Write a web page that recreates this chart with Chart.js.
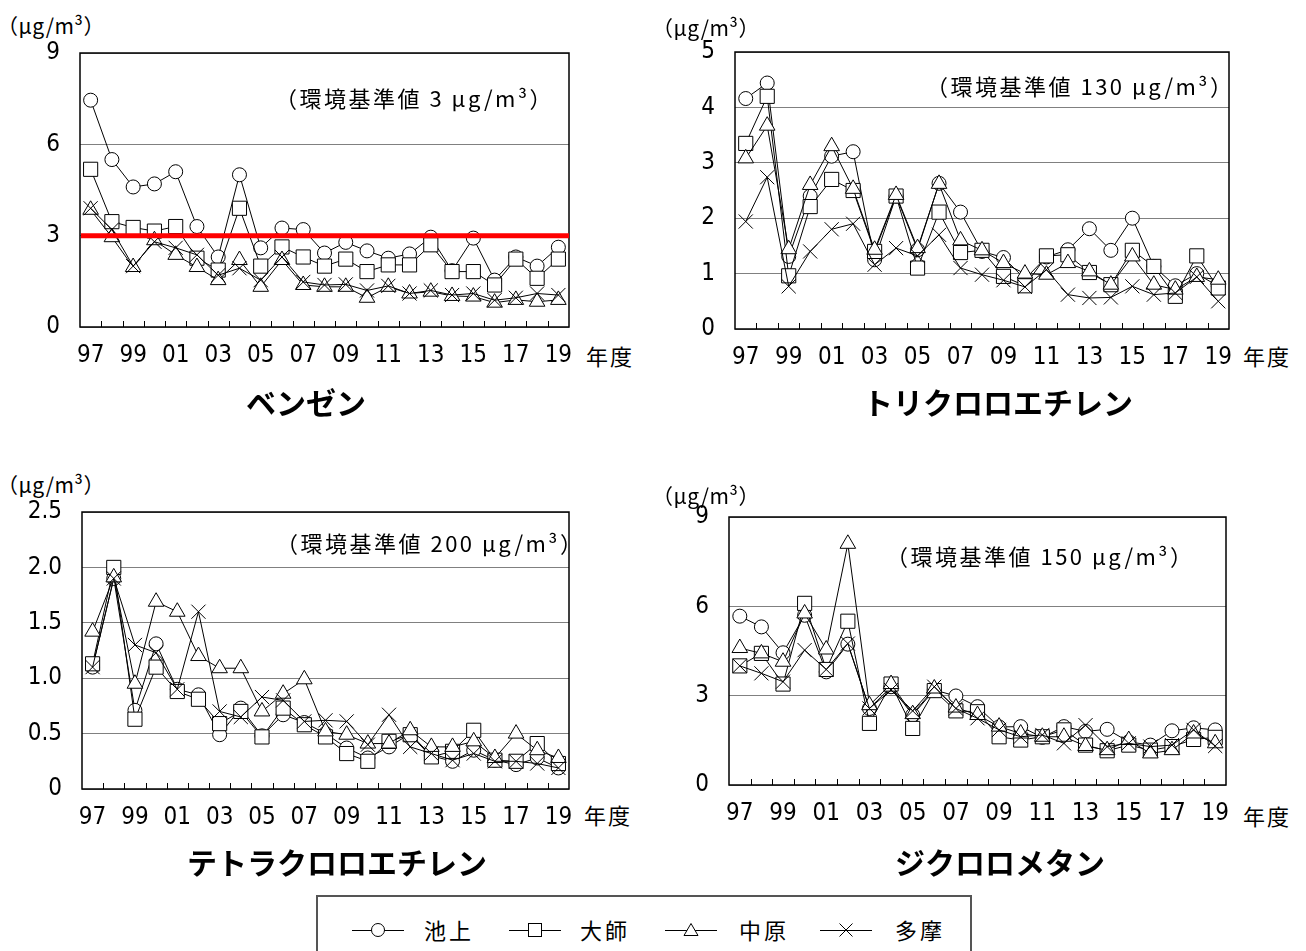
<!DOCTYPE html>
<html>
<head>
<meta charset="utf-8">
<script src="https://cdn.jsdelivr.net/npm/chart.js@4.4.1/dist/chart.umd.min.js"></script>
<style>
  body { margin: 0; background: #fff; }
  #page { position: relative; width: 1306px; height: 951px; overflow: hidden; font-family: "Noto Sans CJK JP", sans-serif; color: #000; }
  canvas { position: absolute; }
  .txt { position: absolute; white-space: nowrap; line-height: 1; }
  .unit { font-size: 21px; letter-spacing: 0.5px; }
  .std { font-size: 22px; letter-spacing: 2.5px; }
  .nendo { font-size: 22px; letter-spacing: 2px; }
  .title { font-size: 30px; font-weight: bold; transform: translateX(-50%); }
  #legend { position: absolute; left: 316px; top: 895px; width: 652px; height: 80px; border: 2px solid #555; }
  .lg { position: absolute; top: 21px; font-size: 22px; letter-spacing: 3px; line-height: 1; }
  .lgs { position: absolute; top: 23px; }
</style>
</head>
<body>
<div id="page">
  <canvas id="c1" width="560" height="340" style="left:20px;top:40px"></canvas>
  <canvas id="c2" width="560" height="340" style="left:680px;top:40px"></canvas>
  <canvas id="c3" width="560" height="340" style="left:20px;top:500px"></canvas>
  <canvas id="c4" width="560" height="340" style="left:680px;top:500px"></canvas>

  <div class="txt unit" style="left:-3px;top:15px">（μg/m³）</div>
  <div class="txt unit" style="left:652px;top:17px">（μg/m³）</div>
  <div class="txt unit" style="left:-3px;top:474px">（μg/m³）</div>
  <div class="txt unit" style="left:652px;top:485px">（μg/m³）</div>

  <div class="txt std" style="left:275px;top:86px">（環境基準値 3 μg/m³）</div>
  <div class="txt std" style="left:926px;top:74px">（環境基準値 130 μg/m³）</div>
  <div class="txt std" style="left:276px;top:531px">（環境基準値 200 μg/m³）</div>
  <div class="txt std" style="left:886px;top:544px">（環境基準値 150 μg/m³）</div>

  <div class="txt nendo" style="left:586px;top:344px">年度</div>
  <div class="txt nendo" style="left:1243px;top:344px">年度</div>
  <div class="txt nendo" style="left:584px;top:803px">年度</div>
  <div class="txt nendo" style="left:1243px;top:804px">年度</div>

  <div class="txt title" style="left:306px;top:386px">ベンゼン</div>
  <div class="txt title" style="left:998px;top:386px">トリクロロエチレン</div>
  <div class="txt title" style="left:337px;top:846px">テトラクロロエチレン</div>
  <div class="txt title" style="left:1000px;top:846px">ジクロロメタン</div>

  <div id="legend"></div>
</div>

<script>
// 年度 (1997-2019)
const years = ['97','98','99','00','01','02','03','04','05','06','07','08','09','10','11','12','13','14','15','16','17','18','19'];
const stations = ['池上', '大師', '中原', '多摩'];

// ベンゼン
const benzeneIkegami  = [7.45,5.5,4.6,4.7,5.1,3.3,2.3,5.0,2.6,3.25,3.2,2.43,2.78,2.5,2.26,2.4,2.95,1.85,2.92,1.54,2.3,2.0,2.62];
const benzeneDaishi   = [5.18,3.46,3.27,3.15,3.3,2.26,1.87,3.9,2.0,2.63,2.3,2.0,2.23,1.82,2.04,2.04,2.7,1.82,1.82,1.38,2.23,1.6,2.23];
const benzeneNakahara = [3.85,2.95,1.97,2.85,2.37,1.97,1.54,2.2,1.32,2.2,1.38,1.32,1.32,0.96,1.32,1.1,1.16,1.02,1.0,0.8,0.89,0.83,0.89];
const benzeneTama     = [3.9,3.2,2.0,2.8,2.6,2.37,1.7,1.93,1.54,2.3,1.48,1.38,1.4,1.2,1.35,1.1,1.2,1.05,1.1,0.88,0.96,1.1,1.05];
const benzeneStandard = 3;

// トリクロロエチレン
const tceIkegami  = [4.16,4.44,1.31,2.4,3.12,3.2,1.25,2.4,1.43,2.63,2.11,1.4,1.29,0.9,1.3,1.43,1.81,1.42,2.0,1.13,0.78,1.0,0.77];
const tceDaishi   = [3.35,4.2,0.96,2.21,2.7,2.5,1.4,2.4,1.1,2.11,1.38,1.42,0.95,0.78,1.32,1.34,1.02,0.8,1.42,1.13,0.59,1.32,0.74];
const tceNakahara = [3.08,3.67,1.44,2.6,3.3,2.53,1.43,2.42,1.46,2.62,1.6,1.42,1.19,1.0,0.98,1.19,1.04,0.8,1.31,0.8,0.71,0.94,0.89];
const tceTama     = [1.94,2.74,0.77,1.4,1.8,1.9,1.16,1.46,1.32,1.7,1.1,0.98,0.88,0.76,1.07,0.62,0.56,0.57,0.77,0.62,0.65,0.94,0.5];

// テトラクロロエチレン
const pceIkegami  = [1.1,1.9,0.71,1.31,0.9,0.85,0.49,0.73,0.48,0.67,0.6,0.5,0.37,0.28,0.38,0.5,0.3,0.25,0.35,0.26,0.22,0.28,0.19];
const pceDaishi   = [1.13,2.0,0.63,1.1,0.88,0.81,0.59,0.7,0.47,0.73,0.58,0.47,0.32,0.25,0.43,0.49,0.29,0.34,0.53,0.26,0.25,0.41,0.23];
const pceNakahara = [1.42,1.91,0.95,1.69,1.6,1.2,1.09,1.09,0.7,0.86,0.99,0.52,0.49,0.41,0.41,0.53,0.38,0.38,0.43,0.28,0.5,0.35,0.28];
const pceTama     = [1.1,1.9,1.3,1.23,0.9,1.6,0.7,0.65,0.83,0.8,0.61,0.62,0.61,0.4,0.67,0.38,0.32,0.26,0.32,0.25,0.25,0.23,0.19];

// ジクロロメタン
const dcmIkegami  = [5.67,5.31,4.44,5.7,3.8,4.73,2.57,3.3,2.35,3.19,2.99,2.63,1.95,1.96,1.6,1.96,1.8,1.87,1.45,1.34,1.82,1.92,1.85];
const dcmDaishi   = [4.0,4.42,3.39,6.1,3.88,5.5,2.07,3.39,1.9,3.17,2.49,2.46,1.62,1.51,1.62,1.85,1.34,1.15,1.34,1.17,1.29,1.53,1.6];
const dcmNakahara = [4.6,4.42,4.14,5.76,4.55,8.1,2.68,3.39,2.38,3.24,2.6,2.35,1.96,1.73,1.62,1.62,1.31,1.17,1.51,1.06,1.17,1.73,1.4];
const dcmTama     = [4.0,3.75,3.47,4.53,3.88,4.75,2.57,3.19,2.49,3.3,2.57,2.24,1.85,1.62,1.68,1.4,2.01,1.29,1.4,1.29,1.34,1.85,1.31];

// marker look per station
const markers = [
  { pointStyle: 'circle',   pointRadius: 7 },
  { pointStyle: 'rect',     pointRadius: 10 },
  { pointStyle: 'triangle', pointRadius: 9 },
  { pointStyle: 'crossRot', pointRadius: 10 },
];

const tickFont = { family: "'Liberation Sans Narrow', 'DejaVu Sans Condensed', sans-serif", size: 24 };

// plot frame + small inner ticks on the x axis
const framePlugin = {
  id: 'frame',
  afterDatasetsDraw(chart) {
    const { ctx, chartArea: a, scales: { x } } = chart;
    ctx.save();
    ctx.strokeStyle = '#000';
    ctx.lineWidth = 1;
    for (let i = 1; i < years.length; i++) {
      const px = Math.round((x.getPixelForValue(i - 1) + x.getPixelForValue(i)) / 2) + 0.5;
      ctx.beginPath();
      ctx.moveTo(px, a.bottom);
      ctx.lineTo(px, a.bottom - 6);
      ctx.stroke();
    }
    ctx.lineWidth = 1.5;
    ctx.strokeRect(a.left, a.top, a.right - a.left, a.bottom - a.top);
    ctx.restore();
  }
};

// red standard line (benzene)
const stdLinePlugin = {
  id: 'stdLine',
  afterDatasetsDraw(chart, args, opts) {
    if (opts.value == null) return;
    const { ctx, chartArea: a, scales: { y } } = chart;
    const py = y.getPixelForValue(opts.value);
    ctx.save();
    ctx.strokeStyle = '#ff0000';
    ctx.lineWidth = 5;
    ctx.beginPath();
    ctx.moveTo(a.left + 1, py);
    ctx.lineTo(a.right, py);
    ctx.stroke();
    ctx.restore();
  }
};

function makeChart(id, series, yMax, yStep, g, stdValue) {
  const datasets = series.map((vals, i) => ({
    label: stations[i],
    data: vals,
    borderColor: '#000',
    borderWidth: 1,
    pointBackgroundColor: '#fff',
    pointBorderColor: '#000',
    pointBorderWidth: 1,
    tension: 0,
    order: series.length - i,
    ...markers[i],
  }));

  return new Chart(document.getElementById(id), {
    type: 'line',
    data: { labels: years, datasets },
    options: {
      responsive: false,
      animation: false,
      events: [],
      layout: { padding: { top: g.top, right: g.right, left: 0, bottom: 0 } },
      plugins: {
        legend: { display: false },
        tooltip: { enabled: false },
        stdLine: { value: stdValue },
      },
      scales: {
        x: {
          offset: true,
          grid: { display: false, drawTicks: false },
          border: { display: false },
          ticks: {
            autoSkip: false, maxRotation: 0, padding: 14, color: '#000', font: tickFont,
            callback: (v, i) => (i % 2 === 0 ? years[i] : ''),
          },
          afterFit: (s) => { s.height = g.xh; s.paddingLeft = 0; s.paddingRight = 0; },
        },
        y: {
          min: 0, max: yMax,
          grid: { color: '#808080', lineWidth: 1, drawTicks: false },
          border: { display: false },
          ticks: {
            stepSize: yStep, padding: 20, color: '#000', font: tickFont,
            callback: (v) => (g.dec && v !== 0 ? v.toFixed(1) : v),
          },
          afterFit: (s) => { s.width = g.yw; s.paddingTop = 0; s.paddingBottom = 0; },
        },
      },
    },
    plugins: [framePlugin, stdLinePlugin],
  });
}

makeChart('c1', [benzeneIkegami, benzeneDaishi, benzeneNakahara, benzeneTama], 9, 3,
  { yw: 60, xh: 53, top: 13, right: 4 }, benzeneStandard);
makeChart('c2', [tceIkegami, tceDaishi, tceNakahara, tceTama], 5, 1,
  { yw: 55, xh: 51, top: 12, right: 7 });
makeChart('c3', [pceIkegami, pceDaishi, pceNakahara, pceTama], 2.5, 0.5,
  { yw: 62, xh: 51, top: 12, right: 1, dec: true });
makeChart('c4', [dcmIkegami, dcmDaishi, dcmNakahara, dcmTama], 9, 3,
  { yw: 49, xh: 55, top: 17, right: 14 });

// legend (shared by the four panels)
const legendSymbols = [
  '<circle cx="26" cy="10" r="6.5" fill="#fff" stroke="#000"/>',
  '<rect x="19.5" y="3.5" width="13" height="13" fill="#fff" stroke="#000"/>',
  '<polygon points="26,3.5 33,15.5 19,15.5" fill="#fff" stroke="#000"/>',
  '<path d="M19.5 3.5 L32.5 16.5 M32.5 3.5 L19.5 16.5" stroke="#000"/>',
];
const legendSymX = [34, 191, 347, 502];
const legendTextX = [106, 262, 421, 577];
const legend = document.getElementById('legend');
stations.forEach((name, i) => {
  legend.insertAdjacentHTML('beforeend',
    `<svg class="lgs" style="left:${legendSymX[i]}px" width="52" height="20">` +
    `<line x1="0" y1="10.5" x2="52" y2="10.5" stroke="#000"/>${legendSymbols[i]}</svg>` +
    `<div class="lg" style="left:${legendTextX[i]}px">${name}</div>`);
});
</script>
</body>
</html>
